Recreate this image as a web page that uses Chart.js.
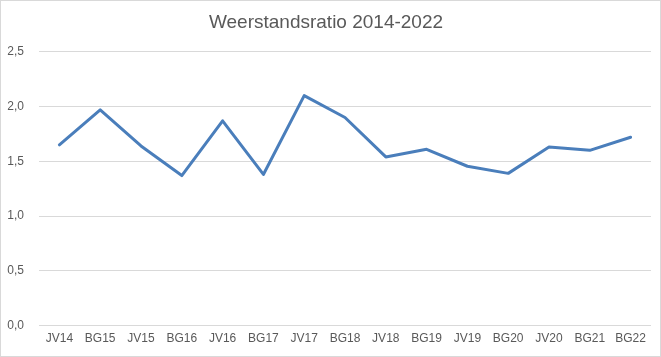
<!DOCTYPE html>
<html>
<head>
<meta charset="utf-8">
<script src="https://cdn.jsdelivr.net/npm/chart.js@4/dist/chart.umd.min.js"></script>
<style>
  html, body { margin: 0; padding: 0; background: #fff; }
  #wrap { width: 661px; height: 357px; box-sizing: border-box; border: 1px solid #d9d9d9; background: #fff; }
  canvas { display: block; }
</style>
</head>
<body>
<div id="wrap"><canvas id="c" width="659" height="355"></canvas></div>
<script>
const categories = ["JV14","BG15","JV15","BG16","JV16","BG17","JV17","BG18","JV18","BG19","JV19","BG20","JV20","BG21","BG22"];
const ratioValues = [1.65, 1.97, 1.64, 1.37, 1.87, 1.38, 2.10, 1.90, 1.54, 1.61, 1.455, 1.39, 1.63, 1.60, 1.72];
const chartTitle = "Weerstandsratio 2014-2022";
const yMin = 0, yMax = 2.5, yStep = 0.5;

const textColor = "#595959";
const fontFamily = "'Liberation Sans', Arial, sans-serif";

new Chart(document.getElementById("c"), {
  type: "line",
  data: {
    labels: categories,
    datasets: [{
      label: "Weerstandsratio",
      data: ratioValues,
      borderColor: "#4A7EBB",
      backgroundColor: "#4A7EBB",
      borderWidth: 3,
      pointRadius: 0,
      pointHoverRadius: 0,
      tension: 0,
      fill: false,
      borderCapStyle: "round",
      borderJoinStyle: "round"
    }]
  },
  options: {
    responsive: false,
    animation: false,
    devicePixelRatio: 1,
    layout: { padding: { left: 0, right: 9, top: 0, bottom: 4 } },
    plugins: {
      legend: { display: false },
      tooltip: { enabled: false },
      title: {
        display: true,
        text: chartTitle,
        color: textColor,
        font: { family: fontFamily, size: 19, weight: "normal" },
        padding: { top: 10, bottom: 18 }
      }
    },
    scales: {
      x: {
        offset: true,
        grid: { display: false, drawTicks: false, offset: true },
        border: { display: false },
        ticks: {
          color: textColor,
          font: { family: fontFamily, size: 12 },
          padding: 6,
          maxRotation: 0,
          autoSkip: false
        }
      },
      y: {
        min: yMin,
        max: yMax,
        afterFit: (s) => { s.width = 38; },
        grid: { color: "#d9d9d9", lineWidth: 1, drawTicks: false },
        border: { display: false },
        ticks: {
          stepSize: yStep,
          color: textColor,
          font: { family: fontFamily, size: 12 },
          padding: 15,
          callback: (v) => Number(v).toFixed(1).replace(".", ",")
        }
      }
    }
  }
});
</script>
</body>
</html>
